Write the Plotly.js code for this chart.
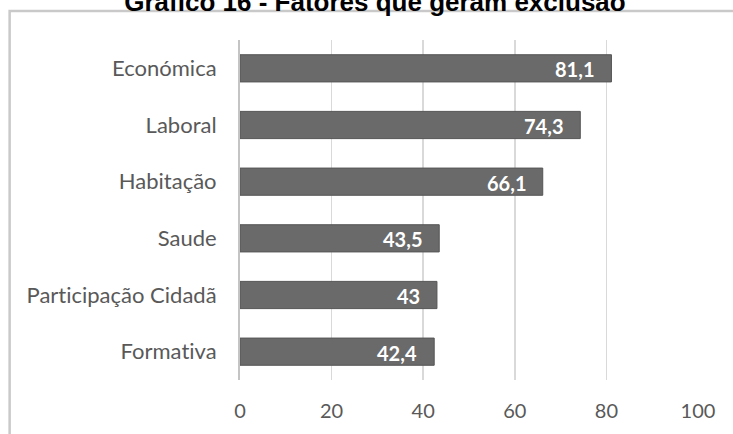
<!DOCTYPE html>
<html>
<head>
<meta charset="utf-8">
<script src="https://cdn.plot.ly/plotly-3.0.1.min.js"></script>
<style>html,body{margin:0;padding:0;background:#fff;}#chart{width:733px;height:434px;}text{font-variant-ligatures:none;font-feature-settings:"liga" 0;}</style>
</head>
<body>
<div id="chart"></div>
<script>
const categories = ["Formativa", "Participação Cidadã", "Saude", "Habitação", "Laboral", "Económica"];
const values = [42.4, 43, 43.5, 66.1, 74.3, 81.1];
const valueLabels = ["42,4", "43", "43,5", "66,1", "74,3", "81,1"];
const xTickVals = [0, 20, 40, 60, 80, 100];
const titleText = "Gráfico 16 - Fatores que geram exclusão";

const labelFont = "Lato, 'Open Sans', sans-serif";

const trace = {
  type: "bar",
  orientation: "h",
  y: categories,
  x: values,
  marker: { color: "#6a6a6a", line: { color: "#555555", width: 1 } },
  hoverinfo: "none"
};

const annotations = values.map((v, i) => ({
  x: v, y: categories[i], xref: "x", yref: "y",
  text: "<b>" + valueLabels[i] + "</b>", showarrow: false,
  xanchor: "right", xshift: -15, yshift: -1,
  font: { family: labelFont, size: 20, color: "#ffffff" }
}));

const layout = {
  width: 733, height: 434,
  margin: { l: 240, r: 35, t: 40, b: 54 },
  paper_bgcolor: "#ffffff", plot_bgcolor: "#ffffff",
  showlegend: false,
  bargap: 0.52,
  title: {
    text: "<b>" + titleText + "</b>",
    font: { family: "'Liberation Sans', Arial, sans-serif", size: 26, color: "#000000" },
    x: 0.5116, xanchor: "center", xref: "container",
    y: 0.9954, yanchor: "middle", yref: "container"
  },
  xaxis: {
    range: [0, 100], tickvals: xTickVals, ticktext: xTickVals.map(String),
    showgrid: true, gridcolor: "#d9d9d9", gridwidth: 1.5,
    zeroline: false, showline: false,
    ticks: "", ticklabelstandoff: 17,
    tickfont: { family: labelFont, size: 20, color: "#595959" },
    fixedrange: true
  },
  yaxis: {
    type: "category", categoryorder: "array", categoryarray: categories,
    showgrid: false, zeroline: false,
    showline: true, linecolor: "#c4c4c4", linewidth: 2,
    ticks: "", ticklabelstandoff: 17,
    tickfont: { family: labelFont, size: 22, color: "#595959" },
    fixedrange: true
  },
  shapes: [{
    type: "rect", xref: "paper", yref: "paper",
    x0: -0.503, x1: 2, y0: -1, y1: 1.0853,
    line: { color: "#c9c9c9", width: 2.5 }, fillcolor: "rgba(0,0,0,0)", layer: "below"
  }],
  annotations: annotations
};

Plotly.newPlot("chart", [trace], layout, { displayModeBar: false, staticPlot: true });
</script>
</body>
</html>
